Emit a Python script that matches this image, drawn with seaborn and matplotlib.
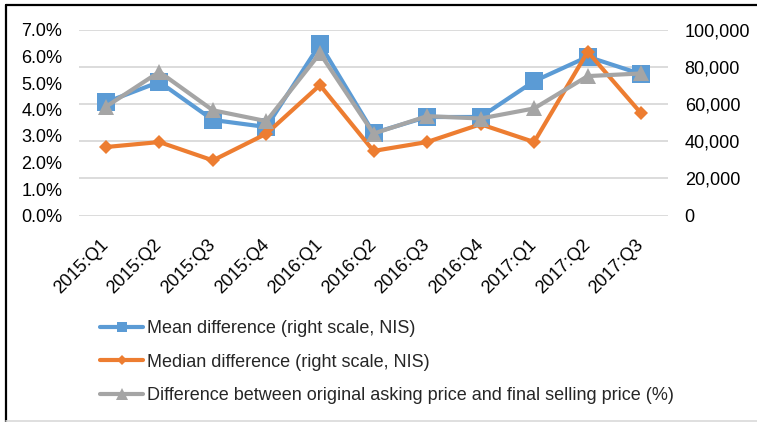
import matplotlib
matplotlib.use("Agg")
import matplotlib.pyplot as plt
import matplotlib.ticker as mticker
from matplotlib.lines import Line2D
import seaborn as sns
import pandas as pd

quarters = ["2015:Q1", "2015:Q2", "2015:Q3", "2015:Q4", "2016:Q1", "2016:Q2",
            "2016:Q3", "2016:Q4", "2017:Q1", "2017:Q2", "2017:Q3"]
mean_diff = [61000, 72000, 51500, 47700, 92400, 44500, 53100, 53100, 72400, 85600, 76200]
median_diff = [36900, 39600, 29700, 44100, 70300, 34800, 39600, 49200, 39600, 88300, 55000]
pct_diff = [4.10, 5.42, 3.97, 3.56, 6.12, 3.09, 3.75, 3.66, 4.04, 5.26, 5.36]

labels = ["Mean difference (right scale, NIS)",
          "Median difference (right scale, NIS)",
          "Difference between original asking price and final selling price (%)"]
BLUE, ORANGE, GRAY = "#5B9BD5", "#ED7D31", "#A5A5A5"

sns.set_style("white")
plt.rcParams["font.family"] = ["Liberation Sans", "DejaVu Sans"]
FS = 13

df = pd.DataFrame({"quarter": quarters, "mean": mean_diff,
                   "median": median_diff, "pct": pct_diff})

fig = plt.figure(figsize=(7.57, 4.22), dpi=100)
ax = fig.add_axes([79 / 757, 1 - 215.5 / 422, 589 / 757, 185.5 / 422])
ax2 = ax.twinx()

sns.lineplot(data=df, x="quarter", y="mean", ax=ax, color=BLUE, marker="s",
             markersize=12.5, markeredgewidth=0, linewidth=3, sort=False)
sns.lineplot(data=df, x="quarter", y="median", ax=ax, color=ORANGE, marker="D",
             markersize=7.5, markeredgewidth=0, linewidth=3, sort=False)
sns.lineplot(data=df, x="quarter", y="pct", ax=ax2, color=GRAY, marker="^",
             markersize=11, markeredgewidth=0, linewidth=3, sort=False)

ax.set_xlim(-0.5, len(quarters) - 0.5)
ax.set_ylim(0, 100000)
ax2.set_ylim(0, 7)
ax.set_xlabel("")
ax.set_ylabel("")
ax2.set_ylabel("")

# right scale (NIS) on right, percent on left
ax.yaxis.tick_right()
ax2.yaxis.tick_left()
ax.yaxis.set_major_locator(mticker.MultipleLocator(20000))
ax.yaxis.set_major_formatter(mticker.FuncFormatter(lambda v, p: f"{v:,.0f}"))
ax2.yaxis.set_major_locator(mticker.MultipleLocator(1))
ax2.yaxis.set_major_formatter(mticker.FuncFormatter(lambda v, p: f"{v:.1f}%"))

ax.grid(axis="y", color="#D9D9D9", linewidth=1.3)
ax.grid(axis="x", visible=False)
ax2.grid(False)
for a in (ax, ax2):
    for s in a.spines.values():
        s.set_visible(False)

ax.tick_params(axis="y", length=0, pad=12, labelsize=FS, labelcolor="black")
ax2.tick_params(axis="y", length=0, pad=12, labelsize=FS, labelcolor="black")
ax.tick_params(axis="x", length=0, pad=19, labelsize=FS, labelcolor="black")
ax.set_xticks(range(len(quarters)))
ax.set_xticklabels(quarters, rotation=45, ha="right", va="center",
                   rotation_mode="anchor")

handles = [
    Line2D([], [], color=BLUE, marker="s", markersize=7, markeredgewidth=0, linewidth=3),
    Line2D([], [], color=ORANGE, marker="D", markersize=5, markeredgewidth=0, linewidth=3),
    Line2D([], [], color=GRAY, marker="^", markersize=8, markeredgewidth=0, linewidth=3),
]
fig.legend(handles, labels, loc="upper left",
           bbox_to_anchor=(100 / 757, 1 - 320 / 422), frameon=False,
           fontsize=FS, handlelength=2.4, handletextpad=0.2,
           labelspacing=0.92, borderpad=0, borderaxespad=0)

# chart frame (visible edges in reference)
fig.add_artist(Line2D([6 / 757, 1], [1 - 5 / 422, 1 - 5 / 422],
                      transform=fig.transFigure, color="black", linewidth=1.6))
fig.add_artist(Line2D([6 / 757, 6 / 757], [0, 1 - 5 / 422],
                      transform=fig.transFigure, color="black", linewidth=1.6))
fig.add_artist(Line2D([6 / 757, 1], [1.5 / 422, 1.5 / 422],
                      transform=fig.transFigure, color="#D9D9D9", linewidth=1.2))

fig.savefig("out.png", dpi=100)
